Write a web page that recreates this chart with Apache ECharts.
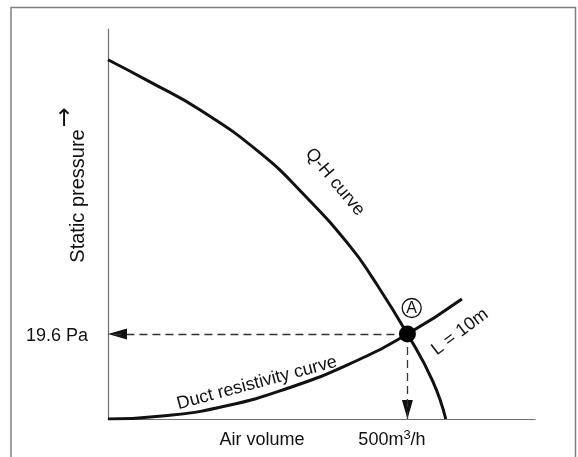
<!DOCTYPE html>
<html><head><meta charset="utf-8">
<script src="https://cdn.jsdelivr.net/npm/echarts@6/dist/echarts.min.js"></script>
<style>html,body{margin:0;padding:0;background:#fff}#c{width:578px;height:457px}</style>
</head><body><div id="c"></div><script>
// Q-H (fan) curve: air volume (m3/h) vs static pressure (Pa)
const qhX = [0, 70, 154, 254, 329, 404, 442, 500, 542, 564];
const qhY = [82.9, 77.8, 71.3, 61.4, 51.5, 39.9, 32.5, 19.6, 8.8, 0];
// Duct resistivity curve (L = 10m)
const ductX = [0, 100, 200, 300, 400, 500, 591];
const ductY = [0, 0.8, 3.1, 7.1, 12.5, 19.6, 27.7];
// Operating point A
const opX = 500;
const opY = 19.6;
const axisMax = { x: 713, y: 90 };

const FONT = '"Liberation Sans", Arial, sans-serif';
const chart = echarts.init(document.getElementById('c'));
const pair = (xs, ys) => xs.map((x, i) => [x, ys[i]]);

function txt(text, x, y, rot, size, font) {
  return { type: 'text', x: x, y: y, rotation: rot || 0, z: 100,
    style: { text: text, font: (size || 18) + 'px ' + (font || FONT), fill: '#111', align: 'center', verticalAlign: 'middle' } };
}

chart.setOption({
  animation: false,
  backgroundColor: '#fff',
  grid: { left: 108, top: 29, right: 43, bottom: 38, containLabel: false },
  xAxis: { type: 'value', min: 0, max: axisMax.x, axisLine: { lineStyle: { color: '#6e6e6e', width: 1.2 } },
    axisTick: { show: false }, axisLabel: { show: false }, splitLine: { show: false } },
  yAxis: { type: 'value', min: 0, max: axisMax.y, axisLine: { show: true, lineStyle: { color: '#6e6e6e', width: 1.2 } },
    axisTick: { show: false }, axisLabel: { show: false }, splitLine: { show: false } },
  series: [
    { type: 'line', data: pair(qhX, qhY), smooth: 0.5, showSymbol: false, lineStyle: { color: '#111', width: 3 }, z: 3 },
    { type: 'line', data: pair(ductX, ductY), smooth: 0.5, showSymbol: false, lineStyle: { color: '#111', width: 3 }, z: 3,
      markLine: { silent: true, symbol: ['none', 'none'],
        lineStyle: { type: [8, 5], color: '#333', width: 1.3 }, label: { show: false },
        emphasis: { disabled: true },
        data: [
          [{ coord: [opX, opY] }, { coord: [0, opY] }],
          [{ coord: [opX, opY] }, { coord: [opX, 0] }]
        ] } },
    { type: 'custom', data: [[0, opY, 0], [opX, 0, 1]], encode: { x: 0, y: 1 }, clip: false, z: 4, silent: true,
      renderItem: function (params, api) {
        const p = api.coord([api.value(0), api.value(1)]);
        const L = 19, W = 5.5;
        const pts = api.value(2) === 0
          ? [[p[0], p[1]], [p[0] + L, p[1] - W], [p[0] + L, p[1] + W]]
          : [[p[0], p[1]], [p[0] - W, p[1] - L], [p[0] + W, p[1] - L]];
        return { type: 'polygon', shape: { points: pts }, style: { fill: '#111' } };
      } },
    { type: 'scatter', data: [[opX, opY]], symbolSize: 17, itemStyle: { color: '#000', opacity: 1 }, z: 5, silent: true }
  ],
  graphic: [
    { type: 'rect', shape: { x: 11, y: 7.5, width: 564.5, height: 470 }, style: { fill: 'none', stroke: '#7f7f7f', lineWidth: 1.5 }, silent: true },
    txt('19.6 Pa', 57, 336),
    txt('Air volume', 262, 440),
    { type: 'text', x: 392, y: 440, z: 100, style: { text: '{n|500m}{s|3}{n|/h}', align: 'center', verticalAlign: 'middle',
      rich: { n: { font: '18px ' + FONT, fill: '#111', lineHeight: 22 }, s: { font: '13px ' + FONT, fill: '#111', verticalAlign: 'top', lineHeight: 22 } } } },
    txt('Static pressure', 78, 196, Math.PI / 2, 20),
    txt('\u2191', 64, 120, 0, 24, '"DejaVu Sans", sans-serif'),
    txt('Q-H curve', 335, 182, -50 * Math.PI / 180),
    txt('Duct resistivity curve', 257, 383, 15 * Math.PI / 180),
    txt('L = 10m', 460, 332, 37 * Math.PI / 180),
    { type: 'circle', shape: { cx: 411.7, cy: 308, r: 9.5 }, style: { fill: 'none', stroke: '#111', lineWidth: 1.3 }, z: 100 },
    txt('A', 411.7, 308.8, 0, 16)
  ]
});
</script></body></html>
